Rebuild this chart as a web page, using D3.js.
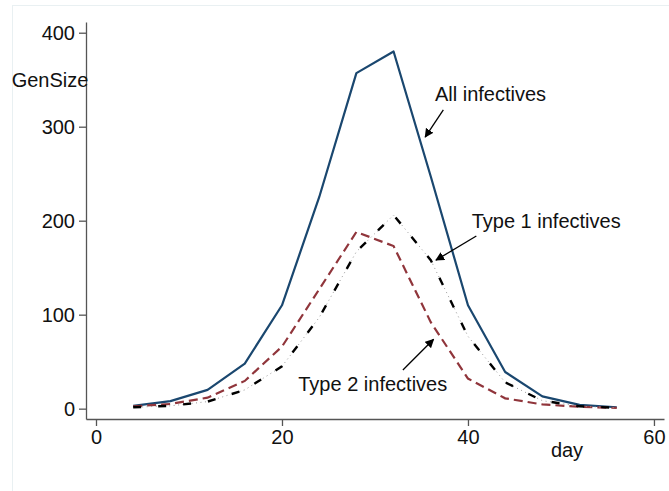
<!DOCTYPE html>
<html>
<head>
<meta charset="utf-8">
<script src="https://cdn.jsdelivr.net/npm/d3@7"></script>
<style>
  body { margin: 0; background: #fff; }
  text { font-family: "Liberation Sans", Arial, sans-serif; }
</style>
</head>
<body>
<div id="chart"></div>
<script>
// generation day and sizes
const days = [4, 8, 12, 16, 20, 24, 28, 32, 36, 40, 44, 48, 52, 56];
const allInf = [3, 8, 20, 48, 110, 225, 357, 380, 247, 110, 39, 13, 4, 1.5];
const type1 = [1.5, 3, 7.5, 20, 45, 97, 167, 206, 158, 77, 28, 8.5, 2.5, 1];
const type2 = [2.5, 5, 11.7, 29.5, 66, 127, 188, 173, 92, 32, 11, 4.5, 2, 0.8];

const xTicks = [0, 20, 40, 60];
const yTicks = [0, 100, 200, 300, 400];

// labels with arrow (data units)
const notes = [
  { text: "All infectives", tx: 36.45, ty: 327.7, ax: 37.35, ay: 317.8, hx: 35.4, hy: 289 },
  { text: "Type 1 infectives", tx: 40.4, ty: 192.6, ax: 40.9, ay: 183.7, hx: 36.56, hy: 158 },
  { text: "Type 2 infectives", tx: 21.75, ty: 19.1, ax: 33.0, ay: 41.2, hx: 36.3, hy: 73.8 }
];

const W = 669, H = 491;
const svg = d3.select("#chart").append("svg")
  .attr("width", W).attr("height", H);

// faint outer frame
svg.append("rect")
  .attr("x", 12.5).attr("y", 5.5)
  .attr("width", W).attr("height", H)
  .attr("fill", "none").attr("stroke", "#e9f0f2").attr("stroke-width", 1);

const x = d3.scaleLinear().domain([-1.075, 61.08]).range([86, 664]);
const y = d3.scaleLinear().domain([-11, 411.4]).range([419, 22]);

const fs = "20px";

const yAxis = svg.append("g")
  .attr("transform", "translate(86,0)")
  .call(d3.axisLeft(y).tickValues(yTicks).tickSize(7).tickSizeOuter(0).tickPadding(4));
const xAxis = svg.append("g")
  .attr("transform", "translate(0,419)")
  .call(d3.axisBottom(x).tickValues(xTicks).tickSize(7).tickSizeOuter(0).tickPadding(4));

[xAxis, yAxis].forEach(function(g) {
  g.select(".domain").attr("stroke", "#555").attr("stroke-width", 1.3);
  g.selectAll(".tick line").attr("stroke", "#555").attr("stroke-width", 1.3);
  g.selectAll(".tick text").attr("fill", "#111").style("font-size", fs)
    .style("font-family", "'Liberation Sans', Arial, sans-serif");
});

svg.append("text")
  .attr("x", 50).attr("y", 87)
  .attr("text-anchor", "middle")
  .style("font-size", fs).attr("fill", "#111")
  .text("GenSize");

svg.append("text")
  .attr("x", 567).attr("y", 456.5)
  .attr("text-anchor", "middle")
  .style("font-size", fs).attr("fill", "#111")
  .text("day");

const line = d3.line()
  .x(function(d) { return x(d[0]); })
  .y(function(d) { return y(d[1]); });

function pts(vals) { return days.map(function(d, i) { return [d, vals[i]]; }); }

// all infectives
svg.append("path")
  .datum(pts(allInf))
  .attr("d", line)
  .attr("fill", "none")
  .attr("stroke", "#1a476f")
  .attr("stroke-width", 2.2)
  .attr("stroke-linejoin", "round");

// type 2 infectives
svg.append("path")
  .datum(pts(type2))
  .attr("d", line)
  .attr("fill", "none")
  .attr("stroke", "#90353b")
  .attr("stroke-width", 2.2)
  .attr("stroke-dasharray", "9,5");

// type 1 infectives: long dash with fine dots between
svg.append("path")
  .datum(pts(type1))
  .attr("d", line)
  .attr("fill", "none")
  .attr("stroke", "#999")
  .attr("stroke-width", 1)
  .attr("stroke-dasharray", "1,3.5");
svg.append("path")
  .datum(pts(type1))
  .attr("d", line)
  .attr("fill", "none")
  .attr("stroke", "#000")
  .attr("stroke-width", 2.4)
  .attr("stroke-dasharray", "8,17");

// arrows
svg.append("defs").append("marker")
  .attr("id", "arr")
  .attr("viewBox", "0 0 10 10")
  .attr("refX", 9).attr("refY", 5)
  .attr("markerWidth", 9).attr("markerHeight", 9)
  .attr("markerUnits", "userSpaceOnUse")
  .attr("orient", "auto")
  .append("path")
  .attr("d", "M0,0 L10,5 L0,10 z")
  .attr("fill", "#000");

const ann = svg.append("g").selectAll("g").data(notes).enter().append("g");
ann.append("line")
  .attr("x1", function(d) { return x(d.ax); })
  .attr("y1", function(d) { return y(d.ay); })
  .attr("x2", function(d) { return x(d.hx); })
  .attr("y2", function(d) { return y(d.hy); })
  .attr("stroke", "#000").attr("stroke-width", 1.3)
  .attr("marker-end", "url(#arr)");
ann.append("text")
  .attr("x", function(d) { return x(d.tx); })
  .attr("y", function(d) { return y(d.ty); })
  .style("font-size", fs).attr("fill", "#111")
  .text(function(d) { return d.text; });
</script>
</body>
</html>
